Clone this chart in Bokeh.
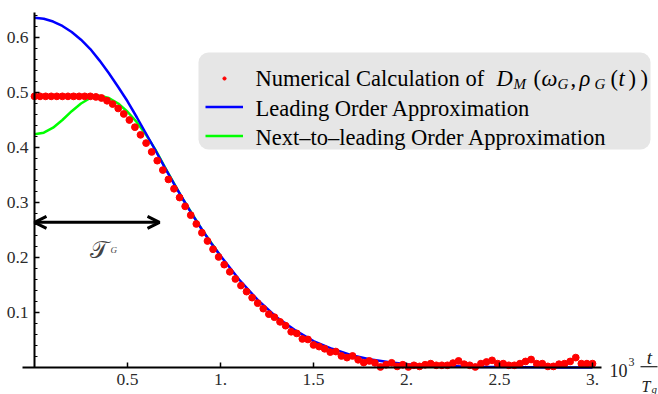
import numpy as np
from bokeh.plotting import figure
from bokeh.models import (LinearAxis, FixedTicker, Range1d, Legend, LegendItem, Label,
                          BoxAnnotation, Arrow, OpenHead)
from bokeh.embed import file_html
from bokeh.resources import INLINE

# ---------------- data ----------------
t_step = 0.03
numerical = [0.493, 0.493, 0.493, 0.493, 0.493, 0.493, 0.493, 0.493, 0.493, 0.493,
             0.493, 0.492, 0.490, 0.485, 0.479, 0.471, 0.461, 0.450, 0.437, 0.423,
             0.408, 0.392, 0.376, 0.359, 0.342, 0.325, 0.309, 0.293, 0.277, 0.261,
             0.245, 0.230, 0.215, 0.201, 0.187, 0.174, 0.161, 0.149, 0.138, 0.127,
             0.117, 0.107, 0.097, 0.0915, 0.083, 0.076, 0.065, 0.062, 0.052, 0.051,
             0.041, 0.038, 0.034, 0.028, 0.029, 0.021, 0.018, 0.021, 0.014, 0.009,
             0.012, 0.0085, 0.001, 0.005, 0.0085, 0.002, 0.005, 0.001, 0.004, 0.002,
             0.005, 0.007, 0.004, 0.004, 0.004, 0.008, 0.012, 0.006, 0.004, 0.001,
             0.007, 0.010, 0.013, 0.007, 0.007, 0.004, 0.004, 0.007, 0.011, 0.0145,
             0.007, 0.007, 0.002, 0.002, 0.006, 0.007, 0.011, 0.018, 0.007, 0.007,
             0.007]
t_numerical = [round(i * t_step, 2) for i in range(len(numerical))]

t_leading = [0.0, 0.05, 0.1, 0.15, 0.2, 0.25, 0.3, 0.35, 0.4, 0.45, 0.5, 0.55, 0.6, 0.65,
             0.7, 0.75, 0.8, 0.85, 0.9, 0.95, 1.0, 1.1, 1.2, 1.3, 1.4, 1.5, 1.6, 1.7, 1.8,
             1.9, 2.0, 2.1, 2.2, 2.3, 2.4, 2.5, 2.6, 2.7, 2.8, 2.9, 3.0]
leading = [0.636, 0.634, 0.629, 0.621, 0.610, 0.596, 0.579, 0.558, 0.535, 0.510, 0.484,
           0.455, 0.425, 0.395, 0.364, 0.334, 0.305, 0.277, 0.251, 0.226, 0.203,
           0.160, 0.123, 0.092, 0.068, 0.048, 0.034, 0.023, 0.015, 0.010, 0.006, 0.004,
           0.003, 0.002, 0.001, 0.001, 0.0005, 0.0003, 0.0002, 0.0001, 0.0001]

t_next = [0.0, 0.05, 0.1, 0.15, 0.2, 0.25, 0.3, 0.35, 0.4, 0.45, 0.5, 0.55, 0.6, 0.65,
          0.7, 0.75, 0.8, 0.9, 1.0]
next_leading = [0.424, 0.427, 0.436, 0.450, 0.466, 0.480, 0.490, 0.494, 0.490, 0.480,
                0.465, 0.446, 0.423, 0.396, 0.365, 0.335, 0.305, 0.251, 0.203]

x_ticks = [0.5, 1.0, 1.5, 2.0, 2.5, 3.0]
x_tick_labels = ["0.5", "1.", "1.5", "2.", "2.5", "3."]
y_ticks = [0.1, 0.2, 0.3, 0.4, 0.5, 0.6]
y_tick_labels = ["0.1", "0.2", "0.3", "0.4", "0.5", "0.6"]
y_minor = [round(i * 0.02, 2) for i in range(1, 33)]
tau_span = (0.0, 0.672, 0.264)   # arrow from, to, level

legend_labels = ["Numerical Calculation of", "Leading Order Approximation",
                 "Next\u2013to\u2013leading Order Approximation"]

# ---------------- figure ----------------
SERIF = "Liberation Serif"
W, H = 658, 394
p = figure(width=W, height=H, output_backend="svg", toolbar_location=None,
           x_range=Range1d(-34 / 186, (W - 34) / 186), y_range=Range1d((367 - H) / 550, 367 / 550),
           x_axis_type=None, y_axis_type=None,
           min_border_left=0, min_border_right=0, min_border_top=0, min_border_bottom=0)
p.outline_line_color = None
p.background_fill_color = "white"

def fx(px):
    return (px - 34.0) / 186.0

def fy(py):
    return (367.0 - py) / 550.0

xaxis = LinearAxis(fixed_location=0, bounds=(fx(22), fx(601)),
                   ticker=FixedTicker(ticks=x_ticks, minor_ticks=[]),
                   major_label_overrides={k: v for k, v in zip(x_ticks, x_tick_labels)})
yaxis = LinearAxis(fixed_location=0, bounds=(0, 0.645),
                   ticker=FixedTicker(ticks=y_ticks, minor_ticks=y_minor),
                   major_label_overrides={k: v for k, v in zip(y_ticks, y_tick_labels)})
for ax in (xaxis, yaxis):
    ax.axis_line_width = 2
    ax.axis_line_color = "black"
    ax.major_tick_line_color = "black"
    ax.major_tick_line_width = 1.5
    ax.minor_tick_line_color = "black"
    ax.minor_tick_line_width = 1.2
    ax.major_tick_in = 5
    ax.major_tick_out = 0
    ax.minor_tick_in = 3
    ax.minor_tick_out = 0
    ax.major_label_text_font = SERIF
    ax.major_label_text_font_size = "17.5px"
    ax.major_label_text_color = "#2b2b2b"
    ax.major_label_standoff = 6
p.add_layout(xaxis, "below")
p.add_layout(yaxis, "left")

# legend background
p.add_layout(BoxAnnotation(left=fx(198), right=fx(650), top=fy(52), bottom=fy(149),
                           fill_color="#e6e6e6", fill_alpha=1.0, line_color=None,
                           border_radius=10, level="underlay"))

g_next = p.line(t_next, next_leading, line_color="#00ff00", line_width=2.5)
g_lead = p.line(t_leading, leading, line_color="#0000ff", line_width=2.5)
g_num = p.scatter(t_numerical, numerical, size=6.8, color="#ff0000")

# legend swatches (text is drawn separately so the maths can be typeset)
leg_dot = Legend(items=[LegendItem(label=" ", renderers=[g_num])],
                 location=(205, H - 82.2), padding=0, margin=0, spacing=0,
                 glyph_width=38, glyph_height=8, label_height=8, label_standoff=0,
                 label_text_font_size="1px", background_fill_alpha=0, border_line_alpha=0)
leg_lines = Legend(items=[LegendItem(label=" ", renderers=[g_lead]),
                          LegendItem(label=" ", renderers=[g_next])],
                   location=(205, H - 149.2), padding=0, margin=0, spacing=2,
                   glyph_width=38, glyph_height=27, label_height=27, label_standoff=0,
                   label_text_font_size="1px", background_fill_alpha=0, border_line_alpha=0)
p.add_layout(leg_dot)
p.add_layout(leg_lines)

def lab(text, px, py, size, style="normal", color="black", font=SERIF, align="left"):
    p.add_layout(Label(x=fx(px), y=fy(py), text=text, text_font=font,
                       text_font_size=f"{size}px", text_font_style=style,
                       text_color=color, text_baseline="alphabetic", text_align=align))

lab(legend_labels[0], 255, 78.3, 22.5)
lab(legend_labels[1], 255, 107.7, 22.5)
lab(legend_labels[2], 255, 137, 22.5)

# math part of the first legend entry
lab("D", 496, 78.3, 22.5, "italic")
lab("M", 513, 83, 15, "italic")
lab("(", 533, 78.3, 22.5)
lab("\u03c9", 541, 78.3, 22.5, "italic")
lab("G", 557, 83, 15, "italic")
lab(",", 570, 78.3, 22.5)
lab("\u03c1", 579, 78.3, 22.5, "italic")
lab("G", 594, 83, 15, "italic")
lab("(", 610, 78.3, 22.5)
lab("t", 618, 78.3, 22.5, "italic")
lab(")", 628, 78.3, 22.5)
lab(")", 640, 78.3, 22.5)

# axis label 10^3 t / T_g
lab("10", 609, 370, 18, color="#222222")
lab("3", 628, 361, 12, color="#222222")
p.add_layout(BoxAnnotation(left=fx(640), right=fx(657), top=fy(365.6), bottom=fy(366.8),
                           fill_color="#222222", fill_alpha=1.0, line_color=None))
lab("t", 649, 357, 19, "italic", color="#222222", align="center")
lab("T", 641, 386, 16, "italic", color="#222222")
lab("g", 651, 388, 11, "italic", color="#222222")

# tau_G annotation
p.add_layout(Arrow(x_start=tau_span[0], y_start=tau_span[2], x_end=tau_span[1], y_end=tau_span[2],
                   line_width=3, line_color="black",
                   start=OpenHead(size=12, line_width=3, line_color="black"),
                   end=OpenHead(size=12, line_width=3, line_color="black")))
lab("\U0001D4AF", 89, 249, 24, color="#444444", font="DejaVu Sans")
lab("G", 110, 249, 9, "italic", color="#444444")

open("out.html", "w").write(file_html(p, INLINE))
